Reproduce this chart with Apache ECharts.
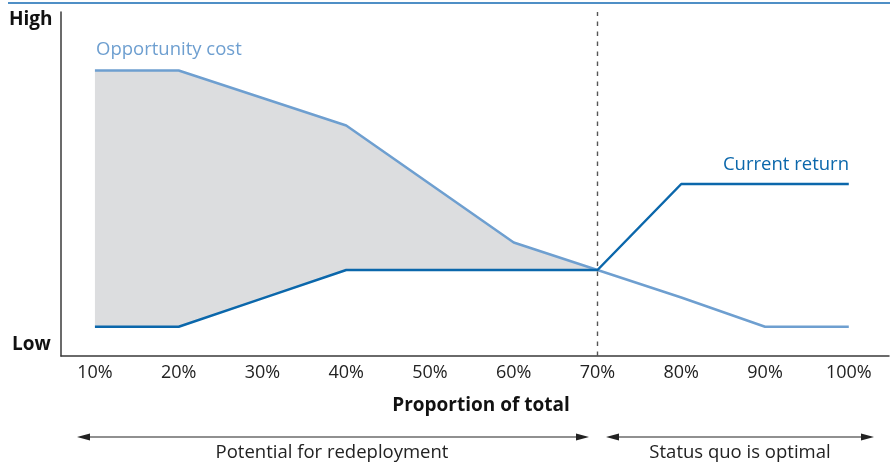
<!DOCTYPE html>
<html>
<head>
<meta charset="utf-8">
<script src="https://cdn.jsdelivr.net/npm/echarts@6/dist/echarts.min.js"></script>
<style>
html,body{margin:0;padding:0;background:#fff;}
#chart{width:890px;height:466px;}
</style>
</head>
<body>
<div id="chart"></div>
<script>
// Data (y on a 0 = Low ... 100 = High scale)
const proportions = [10, 20, 30, 40, 50, 60, 70, 80, 90, 100];
const opportunityCost = [83, 83, 75, 67, 50, 33, 25, 17, 8.5, 8.5];
const currentReturn = [8.5, 8.5, 16.75, 25, 25, 25, 25, 50, 50, 50];
const tickLabels = ['10%', '20%', '30%', '40%', '50%', '60%', '70%', '80%', '90%', '100%'];
const splitAt = 70; // status quo threshold

const FONT = '"Open Sans", "Noto Sans", sans-serif';
const OC_COLOR = '#6e9fd0';
const CR_COLOR = '#0b67ab';

const ocData = proportions.map((p, i) => [p, opportunityCost[i]]);
const crData = proportions.map((p, i) => [p, currentReturn[i]]);
// band between the two curves, for proportions up to the threshold
const bandIdx = proportions.map((p, i) => i).filter(i => proportions[i] <= splitAt);

const chart = echarts.init(document.getElementById('chart'), null, {renderer: 'canvas'});

function arrow(x1, x2, y) {
  return [
    {type: 'line', shape: {x1: x1 + 6, y1: y, x2: x2 - 6, y2: y}, style: {stroke: '#222', lineWidth: 1.2}},
    {type: 'polygon', shape: {points: [[x1, y], [x1 + 13, y - 3.5], [x1 + 13, y + 3.5]]}, style: {fill: '#222'}},
    {type: 'polygon', shape: {points: [[x2, y], [x2 - 13, y - 3.5], [x2 - 13, y + 3.5]]}, style: {fill: '#222'}}
  ];
}

const option = {
  animation: false,
  backgroundColor: '#ffffff',
  grid: {left: 61, right: 1, top: 12, bottom: 110, containLabel: false},
  xAxis: {
    type: 'value',
    min: 5.95,
    max: 104.8,
    axisLine: {show: true, onZero: false, lineStyle: {color: '#3a3a3a', width: 1.5}},
    axisTick: {show: false},
    splitLine: {show: false},
    axisLabel: {
      customValues: proportions,
      formatter: function (v) { return tickLabels[proportions.indexOf(v)] || ''; },
      color: '#222', fontFamily: FONT, fontSize: 18, margin: 8
    },
    name: 'Proportion of total',
    nameLocation: 'middle',
    nameGap: 40,
    nameTextStyle: {color: '#111', fontFamily: FONT, fontWeight: 'bold', fontSize: 19, padding: [0, 0, 0, 12]}
  },
  yAxis: {
    type: 'value',
    min: 0,
    max: 100,
    axisLine: {show: true, lineStyle: {color: '#3a3a3a', width: 1.5}},
    axisTick: {show: false},
    axisLabel: {show: false},
    splitLine: {show: false}
  },
  series: [
    {
      name: 'band', type: 'custom', silent: true, z: 1,
      data: [0],
      renderItem: function (params, api) {
        const top = bandIdx.map(i => api.coord([proportions[i], opportunityCost[i]]));
        const bottom = bandIdx.slice().reverse().map(i => api.coord([proportions[i], currentReturn[i]]));
        return {type: 'polygon', shape: {points: top.concat(bottom)}, style: {fill: '#dcdddf'}};
      }
    },
    {
      name: 'Opportunity cost', type: 'line', data: ocData,
      symbol: 'none', lineStyle: {color: OC_COLOR, width: 2.5}, z: 3,
      markLine: {
        silent: true, symbol: 'none', label: {show: false},
        lineStyle: {color: '#555', type: [4.5, 5.5], width: 1.4},
        data: [{xAxis: splitAt}]
      }
    },
    {
      name: 'Current return', type: 'line', data: crData,
      symbol: 'none', lineStyle: {color: CR_COLOR, width: 2.5}, z: 4
    }
  ],
  graphic: [
    {type: 'line', shape: {x1: 8, y1: 3, x2: 890, y2: 3}, style: {stroke: '#4f8fc6', lineWidth: 2}},
    {type: 'text', x: 9, y: 20, style: {text: 'High', font: 'bold 19px ' + FONT, fill: '#111', textVerticalAlign: 'middle'}},
    {type: 'text', x: 12, y: 345, style: {text: 'Low', font: 'bold 19px ' + FONT, fill: '#111', textVerticalAlign: 'middle'}},
    {type: 'text', x: 96, y: 50, style: {text: 'Opportunity cost', font: '18.5px ' + FONT, fill: OC_COLOR, textVerticalAlign: 'middle'}},
    {type: 'text', x: 849, y: 165, style: {text: 'Current return', font: '18.5px ' + FONT, fill: CR_COLOR, textAlign: 'right', textVerticalAlign: 'middle'}},
    ...arrow(77, 589, 437),
    ...arrow(606, 874, 437),
    {type: 'text', x: 332, y: 453, style: {text: 'Potential for redeployment', font: '18.5px ' + FONT, fill: '#222', textAlign: 'center', textVerticalAlign: 'middle'}},
    {type: 'text', x: 740, y: 453, style: {text: 'Status quo is optimal', font: '18.5px ' + FONT, fill: '#222', textAlign: 'center', textVerticalAlign: 'middle'}}
  ]
};

chart.setOption(option);
</script>
</body>
</html>
